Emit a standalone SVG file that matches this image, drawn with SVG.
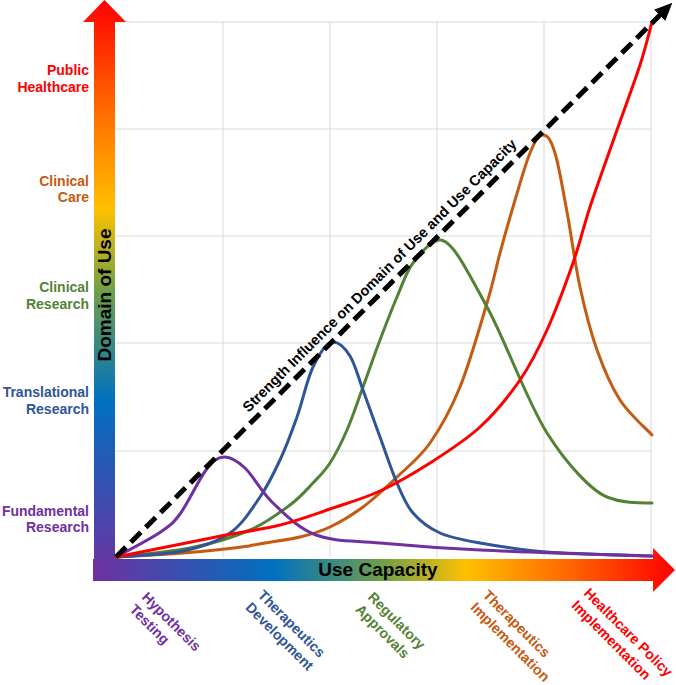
<svg xmlns="http://www.w3.org/2000/svg" width="676" height="685" viewBox="0 0 676 685">
<style>
text{font-family:"Liberation Sans",Arial,sans-serif;font-weight:bold}
.grid line{stroke:#D9D9D9;stroke-width:1}
.curve{fill:none;stroke-width:3;stroke-linecap:round;stroke-linejoin:round}
.lbl{font-size:14px;text-anchor:end}
.blbl{font-size:14.2px}
.axis{font-size:19px;fill:#000;text-anchor:middle}
</style>
<defs>
<linearGradient id="gv" gradientUnits="userSpaceOnUse" x1="0" y1="581" x2="0" y2="0">
<stop offset="0" stop-color="#7030A0"/><stop offset="0.31" stop-color="#0070C0"/><stop offset="0.5" stop-color="#70A048"/><stop offset="0.64" stop-color="#FFC000"/><stop offset="0.8" stop-color="#FF7000"/><stop offset="1" stop-color="#FF0000"/>
</linearGradient>
<linearGradient id="gh" gradientUnits="userSpaceOnUse" x1="93" y1="0" x2="675" y2="0">
<stop offset="0" stop-color="#7030A0"/><stop offset="0.31" stop-color="#0070C0"/><stop offset="0.5" stop-color="#70A048"/><stop offset="0.64" stop-color="#FFC000"/><stop offset="0.8" stop-color="#FF7000"/><stop offset="1" stop-color="#FF0000"/>
</linearGradient>
<marker id="ah" markerUnits="userSpaceOnUse" markerWidth="18" markerHeight="16" refX="2" refY="8" orient="auto">
<path d="M0,0 L18,8 L0,16 z" fill="#000"/>
</marker>
</defs>
<rect width="676" height="685" fill="#fff"/>
<g class="grid">
<line x1="223" y1="22" x2="223" y2="558"/><line x1="330" y1="22" x2="330" y2="558"/><line x1="437" y1="22" x2="437" y2="558"/><line x1="544" y1="22" x2="544" y2="558"/><line x1="651" y1="22" x2="651" y2="558"/>
<line x1="116" y1="22" x2="651" y2="22"/><line x1="116" y1="129" x2="651" y2="129"/><line x1="116" y1="236" x2="651" y2="236"/><line x1="116" y1="343" x2="651" y2="343"/><line x1="116" y1="451" x2="651" y2="451"/>
</g>
<g id="y-axis">
<polygon points="94,581 94,22 83,22 104.5,0 126,22 115,22 115,581" fill="url(#gv)"/>
<text class="axis" transform="translate(111,295) rotate(-90)">Domain of Use</text>
</g>
<g id="x-axis">
<polygon points="93,559 653,559 653,548 675,570 653,592 653,581 93,581" fill="url(#gh)"/>
<text class="axis" x="378" y="576">Use Capacity</text>
</g>
<g id="curves">
<path id="c-orange" class="curve" stroke="#C55A11" d="M116,557 C127.2,556.3 160.8,554.8 183,553 C205.2,551.2 229.5,548.7 249,546 C262.5,542.8 286.5,540.2 300,537 C313.5,533.8 319.5,532 330,527 C340.5,522 351.8,515.3 363,507 C374.2,498.7 385.8,487.7 397,477 C408.2,466.3 419.5,458 430,443 C440.5,428 450.5,410.3 460,387 C469.5,363.7 480.3,325.3 487,303 C493.7,280.7 495.7,269 500,253 C504.3,237 508,223.7 513,207 C518,190.3 525,165 530,153 C535,141 538,135 543,135 C548,135 551,140.2 555,153 C559,165.8 562.8,189.7 567,212 C571.2,234.3 575,264 580,287 C585,310 590.3,331.2 597,350 C603.7,368.8 610.8,385.8 620,400 C629.2,414.2 646.7,429.2 652,435"/>
<path id="c-green" class="curve" stroke="#548235" d="M116,557 C128.3,555.5 167.7,552.5 190,548 C212.3,543.5 233.3,537.2 250,530 C266.7,522.8 279.5,512.8 290,505 C300.5,497.2 306.3,490 313,483 C319.7,476 324.3,471.8 330,463 C335.7,454.2 341.5,442.7 347,430 C352.5,417.3 357.5,402 363,387 C368.5,372 374.3,355 380,340 C385.7,325 391.5,309.8 397,297 C402.5,284.2 405.8,272.5 413,263 C420.2,253.5 431,240 440,240 C453,240 469.2,274.8 487,307 C504.8,339.2 527,401.3 547,433 C567,464.7 592,491 607,497 C622,503 637,503 652,503"/>
<path id="c-blue" class="curve" stroke="#2F5597" d="M116,557 C127.2,556 164,555 183,551 C202,547 217.2,542 230,533 C242.8,524 251.7,509.2 260,497 C268.3,484.8 273.8,473.3 280,460 C286.2,446.7 291.5,432.5 297,417 C302.5,401.5 307,379.5 313,367 C319,354.5 327,342 333,342 C339,342 345,348 350,356 C355,364 358,376.5 363,390 C368,403.5 374.3,421.5 380,437 C385.7,452.5 391.5,470.3 397,483 C402.5,495.7 405.8,504.7 413,513 C420.2,521.3 428.8,528 440,533 C451.2,538 462.2,539.8 480,543 C497.8,546.2 518.3,549.8 547,552 C575.7,554.2 634.5,555.3 652,556"/>
<path id="c-purple" class="curve" stroke="#7030A0" d="M116,557 C123.2,553 148.3,540.2 159,533 C169.7,525.8 172.2,524.5 180,514 C187.8,503.5 198.7,479.5 206,470 C213.3,460.5 217.5,457.3 224,457 C230.5,456.7 236.8,460.3 245,468 C253.2,475.7 261.2,491.8 273,503 C284.8,514.2 298.2,528.3 316,535 C333.8,541.7 352.7,540.5 380,543 C407.3,545.5 434.7,547.8 480,550 C525.3,552.2 623.3,555 652,556"/>
<path id="c-red" class="curve" stroke="#FF0000" stroke-width="3.5" d="M116,557 C132.7,553.7 188.7,542.3 216,537 C243.3,531.7 261,529.7 280,525 C299,520.3 313.3,514.7 330,509 C346.7,503.3 363.3,498.7 380,491 C396.7,483.3 413.3,473.7 430,463 C446.7,452.3 465,440.8 480,427 C495,413.2 508.8,396.2 520,380 C531.2,363.8 538.2,349.5 547,330 C555.8,310.5 565.8,283.5 573,263 C580.2,242.5 582.7,229.2 590,207 C597.3,184.8 608.7,153.7 617,130 C625.3,106.3 634.2,83 640,65 C645.8,47 650,29.2 652,22"/>
</g>
<g id="connectors">
<line x1="116" y1="557" x2="661" y2="14" stroke="#000" stroke-width="5" stroke-dasharray="14 7" marker-end="url(#ah)"/>
<text font-size="14.5" fill="#000" text-anchor="middle" transform="translate(383,279) rotate(-44.9)">Strength Influence on Domain of Use and Use Capacity</text>
</g>
<g id="y-labels">
<text class="lbl" fill="#FF0000"><tspan x="89" y="75">Public</tspan><tspan x="89" y="92">Healthcare</tspan></text>
<text class="lbl" fill="#C55A11"><tspan x="89" y="186">Clinical</tspan><tspan x="89" y="202">Care</tspan></text>
<text class="lbl" fill="#548235"><tspan x="89" y="292">Clinical</tspan><tspan x="89" y="309">Research</tspan></text>
<text class="lbl" fill="#2F5597"><tspan x="89" y="397">Translational</tspan><tspan x="89" y="414">Research</tspan></text>
<text class="lbl" fill="#7030A0"><tspan x="89" y="516">Fundamental</tspan><tspan x="89" y="532">Research</tspan></text>
</g>
<g id="x-labels">
<text class="blbl" fill="#7030A0" transform="translate(141,598) rotate(45)"><tspan x="0" y="0">Hypothesis</tspan><tspan x="0" y="17.5">Testing</tspan></text>
<text class="blbl" fill="#2F5597" transform="translate(257,596) rotate(45)"><tspan x="0" y="0">Therapeutics</tspan><tspan x="0" y="17.5">Development</tspan></text>
<text class="blbl" fill="#548235" transform="translate(367,598) rotate(45)"><tspan x="0" y="0">Regulatory</tspan><tspan x="0" y="17.5">Approvals</tspan></text>
<text class="blbl" fill="#C55A11" transform="translate(482,596) rotate(45)"><tspan x="0" y="0">Therapeutics</tspan><tspan x="0" y="17.5">Implementation</tspan></text>
<text class="blbl" fill="#FF0000" transform="translate(583,594) rotate(45)"><tspan x="0" y="0">Healthcare Policy</tspan><tspan x="0" y="17.5">Implementation</tspan></text>
</g>
</svg>
